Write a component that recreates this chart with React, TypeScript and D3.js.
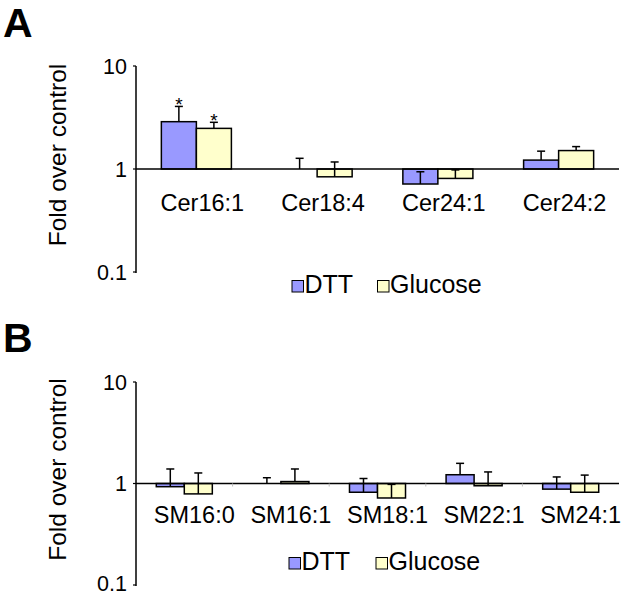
import React from "react";
import * as d3 from "d3";

const seriesNames = ["DTT", "Glucose"];
const seriesColors = ["#9999ff", "#ffffcc"];

const catsA = ["Cer16:1", "Cer18:4", "Cer24:1", "Cer24:2"];
const dttA = [2.88, 1.0, 0.715, 1.22];
const dttErrTopA = [4.05, 1.27, 0.94, 1.49];
const gluA = [2.48, 0.84, 0.81, 1.51];
const gluErrTopA = [2.84, 1.17, 0.98, 1.65];
const sigDttA = [true, false, false, false];
const sigGluA = [true, false, false, false];

const catsB = ["SM16:0", "SM16:1", "SM18:1", "SM22:1", "SM24:1"];
const dttB = [0.93, 1.0, 0.82, 1.22, 0.88];
const dttErrTopB = [1.39, 1.14, 1.12, 1.58, 1.16];
const gluB = [0.79, 1.045, 0.72, 0.95, 0.82];
const gluErrTopB = [1.27, 1.39, 0.98, 1.3, 1.21];
const sigDttB = [false, false, false, false, false];
const sigGluB = [false, false, false, false, false];

const yTicks = [0.1, 1, 10];
const yTickLabels = ["0.1", "1", "10"];
const yTitle = "Fold over control";

const FONT = "'Liberation Sans', Arial, Helvetica, sans-serif";

type PanelProps = {
  letter: string;
  letterY: number;
  cats: string[];
  values: number[][];
  errTops: number[][];
  sig: boolean[][];
  yTop: number;
  yBottom: number;
  labelY: number;
  labelDx: number;
  legendY: number;
  legendX: number[];
  showTicks: boolean;
};

function Panel(p: PanelProps) {
  const x0 = 136;
  const x1 = 619;
  const y = d3.scaleLog().domain([0.1, 10]).range([p.yBottom, p.yTop]);
  const pad = 0.42;
  const xBand = d3
    .scaleBand<string>()
    .domain(p.cats)
    .range([x0, x1])
    .paddingInner(pad)
    .paddingOuter(pad / 2);
  const xSeries = d3
    .scaleBand<string>()
    .domain(seriesNames)
    .range([0, xBand.bandwidth()])
    .padding(0);
  const base = y(1);
  const step = xBand.step();
  const capW = 8;
  const tickFs = 21.5;

  return (
    <g>
      <text x={3} y={p.letterY} fontFamily={FONT} fontWeight="bold" fontSize={41} fill="#000">
        {p.letter}
      </text>
      <text
        transform={`translate(66, ${(p.yTop + p.yBottom) / 2 - 14}) rotate(-90)`}
        textAnchor="middle"
        fontFamily={FONT}
        fontSize={24.5}
        fill="#000"
      >
        {yTitle}
      </text>
      {yTicks.map((t, i) => (
        <g key={t}>
          <text
            x={127}
            y={Math.min(y(t) + 0.36 * tickFs, 590.5)}
            textAnchor="end"
            fontFamily={FONT}
            fontSize={tickFs}
            fill="#000"
          >
            {yTickLabels[i]}
          </text>
          <line x1={x0 - 3} x2={x0} y1={y(t)} y2={y(t)} stroke="#000" strokeWidth={1.2} />
        </g>
      ))}
      {p.cats.map((c, ci) =>
        seriesNames.map((s, si) => {
          const v = p.values[si][ci];
          const bx = (xBand(c) as number) + (xSeries(s) as number);
          const bw = xSeries.bandwidth();
          const yv = y(v);
          const top = Math.min(yv, base);
          const h = Math.abs(yv - base);
          return (
            <rect
              key={c + s}
              x={bx}
              y={top}
              width={bw}
              height={h}
              fill={seriesColors[si]}
              stroke="#000"
              strokeWidth={1.5}
            />
          );
        })
      )}
      {p.cats.map((c, ci) =>
        seriesNames.map((s, si) => {
          const v = p.values[si][ci];
          const e = p.errTops[si][ci];
          const cx = (xBand(c) as number) + (xSeries(s) as number) + xSeries.bandwidth() / 2;
          return (
            <g key={"e" + c + s}>
              <line x1={cx} x2={cx} y1={y(v)} y2={y(e)} stroke="#000" strokeWidth={1.5} />
              <line x1={cx - capW / 2} x2={cx + capW / 2} y1={y(e)} y2={y(e)} stroke="#000" strokeWidth={1.5} />
              {p.sig[si][ci] && (
                <text
                  x={cx}
                  y={y(e) + 5}
                  textAnchor="middle"
                  fontFamily={FONT}
                  fontSize={19}
                  fill="#000"
                >
                  *
                </text>
              )}
            </g>
          );
        })
      )}
      <line x1={x0} x2={x0} y1={p.yTop} y2={p.yBottom + 1} stroke="#000" strokeWidth={1.5} />
      <line x1={x0} x2={x1} y1={base} y2={base} stroke="#000" strokeWidth={1.5} />
      {p.showTicks &&
        p.cats.slice(1).map((c) => {
          const tx = (xBand(c) as number) - (step * pad) / 2;
          return <line key={"t" + c} x1={tx} x2={tx} y1={base} y2={base + 3} stroke="#bbb" strokeWidth={1} />;
        })}
      {p.cats.map((c) => (
        <text
          key={"l" + c}
          x={(xBand(c) as number) + xBand.bandwidth() / 2 + p.labelDx}
          y={p.labelY}
          textAnchor="middle"
          fontFamily={FONT}
          fontSize={23.5}
          fill="#000"
        >
          {c}
        </text>
      ))}
      {seriesNames.map((s, si) => (
        <g key={"lg" + s}>
          <rect
            x={p.legendX[si]}
            y={p.legendY - 12.5}
            width={11.5}
            height={11.5}
            fill={seriesColors[si]}
            stroke="#000"
            strokeWidth={1}
          />
          <text x={p.legendX[si] + 12.5} y={p.legendY} fontFamily={FONT} fontSize={25} fill="#000">
            {s}
          </text>
        </g>
      ))}
    </g>
  );
}

export default function App() {
  return (
    <svg
      width={622}
      height={596}
      viewBox="0 0 622 596"
      style={{ position: "absolute", left: 0, top: 0, background: "#fff" }}
    >
      <rect x={0} y={0} width={622} height={596} fill="#fff" />
      <Panel
        letter="A"
        letterY={37}
        cats={catsA}
        values={[dttA, gluA]}
        errTops={[dttErrTopA, gluErrTopA]}
        sig={[sigDttA, sigGluA]}
        yTop={66}
        yBottom={272}
        labelY={211}
        labelDx={6}
        legendY={293}
        legendX={[292, 377.5]}
        showTicks={false}
      />
      <Panel
        letter="B"
        letterY={352}
        cats={catsB}
        values={[dttB, gluB]}
        errTops={[dttErrTopB, gluErrTopB]}
        sig={[sigDttB, sigGluB]}
        yTop={382}
        yBottom={585}
        labelY={522.5}
        labelDx={10}
        legendY={570}
        legendX={[289, 376]}
        showTicks={true}
      />
    </svg>
  );
}
